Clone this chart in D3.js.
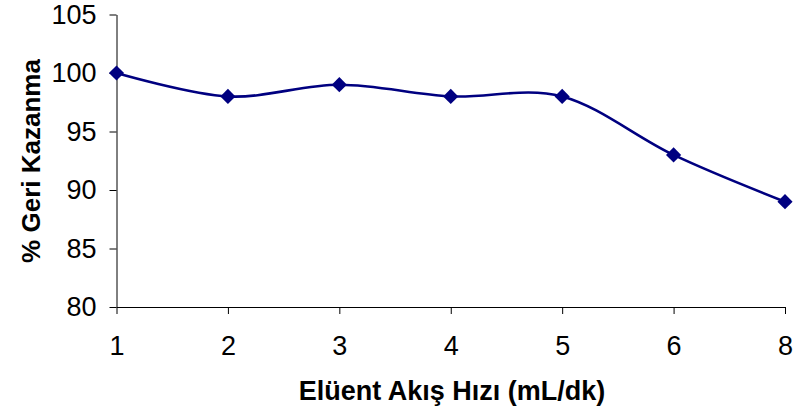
<!DOCTYPE html>
<html>
<head>
<meta charset="utf-8">
<script src="https://cdn.jsdelivr.net/npm/d3@7"></script>
<style>
  html, body { margin: 0; padding: 0; background: #fff; }
  svg { display: block; font-family: "Liberation Sans", Arial, sans-serif; }
</style>
</head>
<body>
<svg id="chart" width="795" height="410"></svg>
<script>
// Elution flow rate (mL/dk) categories and recovery (%) values
const flowRates = ["1", "2", "3", "4", "5", "6", "8"];
const recovery = [100, 98, 99, 98, 98, 93, 89];
const yTicks = [80, 85, 90, 95, 100, 105];

const svg = d3.select("#chart");
const plot = { left: 116.5, right: 785, top: 14.5, bottom: 307 };
const font = "'Liberation Sans', Arial, sans-serif";

const x = d3.scalePoint().domain(flowRates).range([plot.left, plot.right]);
const y = d3.scaleLinear().domain([80, 105]).range([plot.bottom, plot.top]);

// Y axis
const yAxis = svg.append("g")
  .attr("transform", `translate(${plot.left},0)`)
  .call(d3.axisLeft(y).tickValues(yTicks).tickSize(7).tickPadding(13).tickSizeOuter(0));
yAxis.select(".domain").attr("stroke", "#000").attr("stroke-width", 1);
yAxis.selectAll(".tick line").attr("stroke", "#000");
yAxis.selectAll("text").attr("font-size", 27).attr("fill", "#000").attr("font-family", font);

// X axis
const xAxis = svg.append("g")
  .attr("transform", `translate(0,${plot.bottom})`)
  .call(d3.axisBottom(x).tickSize(7).tickPadding(22).tickSizeOuter(0));
xAxis.select(".domain").attr("stroke", "#000").attr("stroke-width", 1);
xAxis.selectAll(".tick line").attr("stroke", "#000");
xAxis.selectAll("text").attr("font-size", 27).attr("fill", "#000").attr("font-family", font);

// Axis titles
svg.append("text")
  .attr("x", 452)
  .attr("y", 400)
  .attr("text-anchor", "middle")
  .attr("font-size", 27)
  .attr("font-weight", "bold")
  .attr("font-family", font)
  .text("Elüent Akış Hızı (mL/dk)");

svg.append("text")
  .attr("transform", "translate(40,161) rotate(-90)")
  .attr("text-anchor", "middle")
  .attr("font-size", 26)
  .attr("font-weight", "bold")
  .attr("font-family", font)
  .text("% Geri Kazanma");

// Smoothed series line
const pts = flowRates.map((c, i) => [x(c), y(recovery[i])]);
const line = d3.line().curve(d3.curveCardinal.tension(0));
svg.append("path")
  .attr("d", line(pts))
  .attr("fill", "none")
  .attr("stroke", "#000080")
  .attr("stroke-width", 2.6);

// Diamond markers
const diamond = d3.symbol().type(d3.symbolSquare).size(115);
svg.append("g").selectAll("path")
  .data(pts)
  .join("path")
  .attr("transform", d => `translate(${d[0]},${d[1]}) rotate(45)`)
  .attr("d", diamond)
  .attr("fill", "#000080");
</script>
</body>
</html>
